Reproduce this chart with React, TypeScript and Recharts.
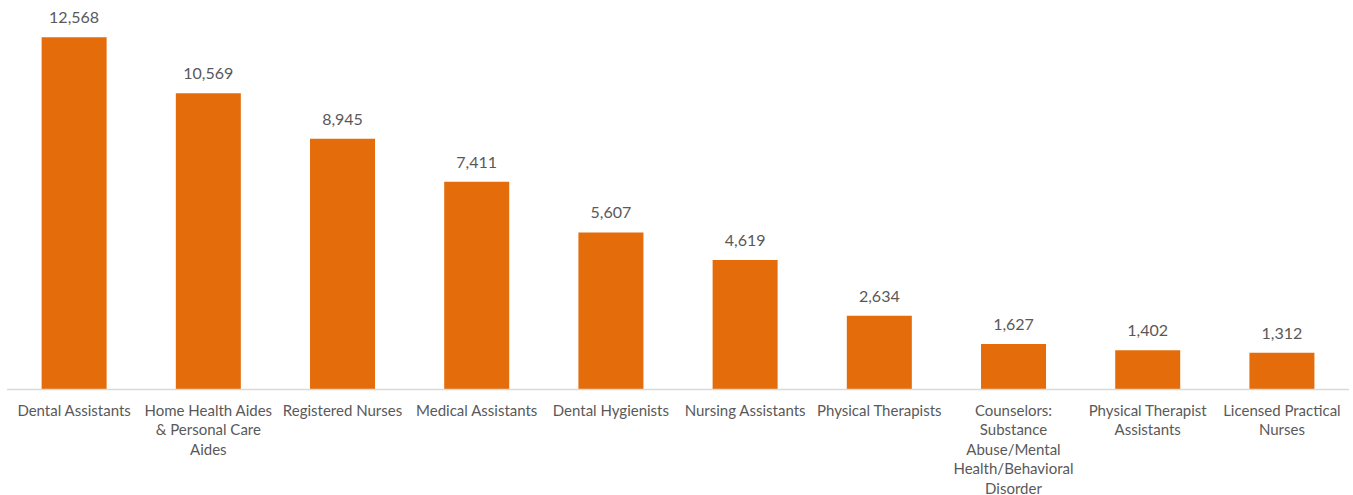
import { BarChart, Bar, XAxis, YAxis, LabelList } from 'recharts';

const categories = [
  'Dental Assistants',
  'Home Health Aides & Personal Care Aides',
  'Registered Nurses',
  'Medical Assistants',
  'Dental Hygienists',
  'Nursing Assistants',
  'Physical Therapists',
  'Counselors: Substance Abuse/Mental Health/Behavioral Disorder',
  'Physical Therapist Assistants',
  'Licensed Practical Nurses',
];

const values = [12568, 10569, 8945, 7411, 5607, 4619, 2634, 1627, 1402, 1312];

// how the category names break onto lines under the axis
const tickLines: Record<string, string[]> = {
  'Home Health Aides & Personal Care Aides': ['Home Health Aides', '& Personal Care', 'Aides'],
  'Counselors: Substance Abuse/Mental Health/Behavioral Disorder': [
    'Counselors:',
    'Substance',
    'Abuse/Mental',
    'Health/Behavioral',
    'Disorder',
  ],
  'Physical Therapist Assistants': ['Physical Therapist', 'Assistants'],
  'Licensed Practical Nurses': ['Licensed Practical', 'Nurses'],
};

const data = categories.map((name, i) => ({ name, value: values[i] }));

const FONT = 'Lato, "Open Sans", sans-serif';
const TEXT = '#595959';

function Tick(props: any) {
  const { x, y, payload } = props;
  const lines = tickLines[payload.value] || [payload.value];
  return (
    <text x={x} y={y} textAnchor="middle" fill={TEXT} fontSize={15} fontFamily={FONT}>
      {lines.map((l, i) => (
        <tspan key={i} x={x} dy={i === 0 ? 18 : 19.5}>
          {l}
        </tspan>
      ))}
    </text>
  );
}

export default function App() {
  return (
    <div style={{ position: 'absolute', left: 0, top: 0, background: '#fff' }}>
      <BarChart
        width={1353}
        height={495}
        data={data}
        margin={{ top: 0, right: 4, bottom: 0, left: 7 }}
        barCategoryGap="25.8%"
      >
        <XAxis
          dataKey="name"
          height={105.5}
          interval={0}
          tickLine={false}
          axisLine={{ stroke: '#d9d9d9', strokeWidth: 1.5 }}
          tick={<Tick />}
        />
        <YAxis hide domain={[0, 13900]} />
        <Bar dataKey="value" fill="#e46c0a" isAnimationActive={false}>
          <LabelList
            dataKey="value"
            position="top"
            offset={14}
            fill={TEXT}
            fontSize={16}
            fontFamily={FONT}
            formatter={(v: any) => Number(v).toLocaleString('en-US')}
          />
        </Bar>
      </BarChart>
    </div>
  );
}
